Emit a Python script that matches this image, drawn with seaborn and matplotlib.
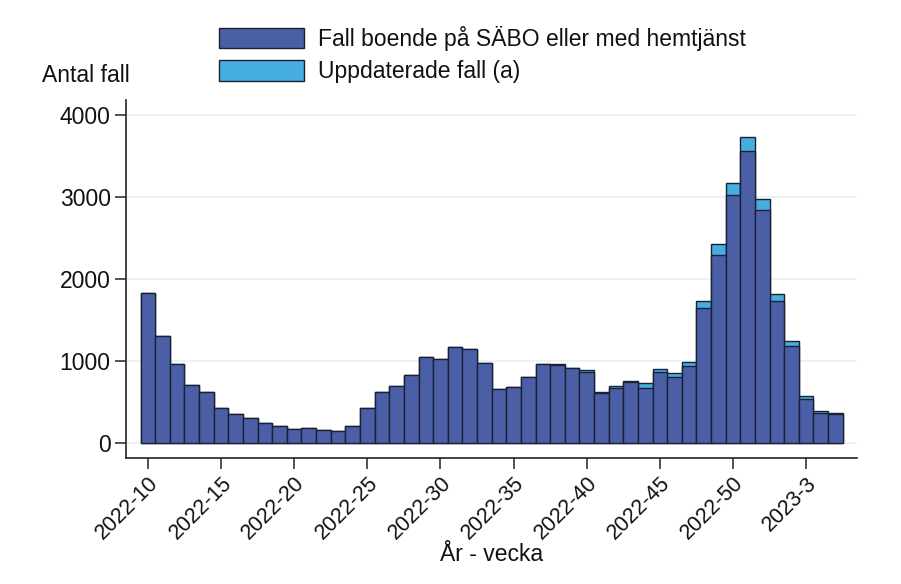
import numpy as np
import pandas as pd
import matplotlib
matplotlib.use('Agg')
import matplotlib.pyplot as plt
import seaborn as sns
from matplotlib.patches import Patch

# week labels, 2022-10 .. 2023-5
weeks = [f"2022-{w}" for w in range(10, 53)] + [f"2023-{w}" for w in range(1, 6)]

# cases (first report) and total after updates
base_cases = [1829, 1301, 956, 704, 615, 420, 350, 305, 244, 207,
              163, 175, 155, 139, 200, 420, 615, 690, 826, 1041,
              1017, 1171, 1143, 968, 651, 683, 795, 960, 953, 910,
              862, 604, 671, 735, 663, 860, 795, 940, 1639, 2289,
              3021, 3557, 2838, 1728, 1179, 529, 366, 345]
updated_cases = [1829, 1301, 956, 704, 615, 420, 350, 305, 244, 207,
                 163, 175, 155, 139, 200, 420, 615, 692, 826, 1041,
                 1017, 1171, 1143, 968, 651, 683, 797, 963, 956, 912,
                 892, 622, 692, 756, 722, 895, 846, 982, 1728, 2423,
                 3171, 3724, 2972, 1813, 1240, 570, 390, 358]

tick_labels = ["2022-10", "2022-15", "2022-20", "2022-25", "2022-30",
               "2022-35", "2022-40", "2022-45", "2022-50", "2023-3"]

dark_blue = '#4a5fa6'
light_blue = '#45aede'
edge = '#1a2035'
fs = 16.5

df = pd.DataFrame({'week': weeks, 'base': base_cases, 'total': updated_cases})

sns.set_style('white')
plt.rcParams['font.family'] = ['Liberation Sans', 'DejaVu Sans']
plt.rcParams['text.color'] = '#111111'
plt.rcParams['xtick.labelcolor'] = '#111111'
plt.rcParams['ytick.labelcolor'] = '#111111'

fig = plt.figure(figsize=(9.01, 5.84), dpi=100)
ax = fig.add_axes([0.1398, 0.2163, 0.8114, 0.6125])

sns.barplot(data=df, x='week', y='total', color=light_blue, saturation=1,
            width=1.0, edgecolor=edge, linewidth=1.0, ax=ax, zorder=2)
sns.barplot(data=df, x='week', y='base', color=dark_blue, saturation=1,
            width=1.0, edgecolor=edge, linewidth=1.0, ax=ax, zorder=3)

ax.set_xlim(-1.5, 48.48)
ax.set_ylim(-183, 4179)
ax.set_yticks([0, 1000, 2000, 3000, 4000])
ax.yaxis.grid(True, color='#eaf1f3', linewidth=1.2, zorder=0)
ax.set_axisbelow(True)

pos = [weeks.index(t) for t in tick_labels]
ax.set_xticks(pos)
ax.set_xticklabels(tick_labels, rotation=45, ha='right', rotation_mode='anchor')

for side in ['top', 'right']:
    ax.spines[side].set_visible(False)
for side in ['left', 'bottom']:
    ax.spines[side].set_color('#222222')
    ax.spines[side].set_linewidth(1.2)

ax.tick_params(axis='both', which='both', length=8, width=1.2, color='#333333',
               labelsize=fs, labelcolor='#111111', bottom=True, left=True, pad=3)
ax.tick_params(axis='x', pad=3, labelsize=15.5)
ax.set_ylabel('')
ax.set_xlabel('År - vecka', fontsize=fs, va='center', color='#111111')
ax.xaxis.set_label_coords(0.5, (457.7 - 555) / 357.7)

fig.text(42 / 901, 1 - 76 / 584, 'Antal fall', fontsize=fs, va='center', ha='left')

handles = [Patch(facecolor=dark_blue, edgecolor=edge, linewidth=1.0),
           Patch(facecolor=light_blue, edgecolor=edge, linewidth=1.0)]
fig.legend(handles, ['Fall boende på SÄBO eller med hemtjänst', 'Uppdaterade fall (a)'],
           loc='upper left', bbox_to_anchor=(219 / 901, 1 - 26 / 584),
           frameon=False, fontsize=fs, handlelength=3.7, handleheight=1.0,
           handletextpad=0.6, labelspacing=0.4, borderpad=0, borderaxespad=0)

fig.savefig('out.png', dpi=100)
